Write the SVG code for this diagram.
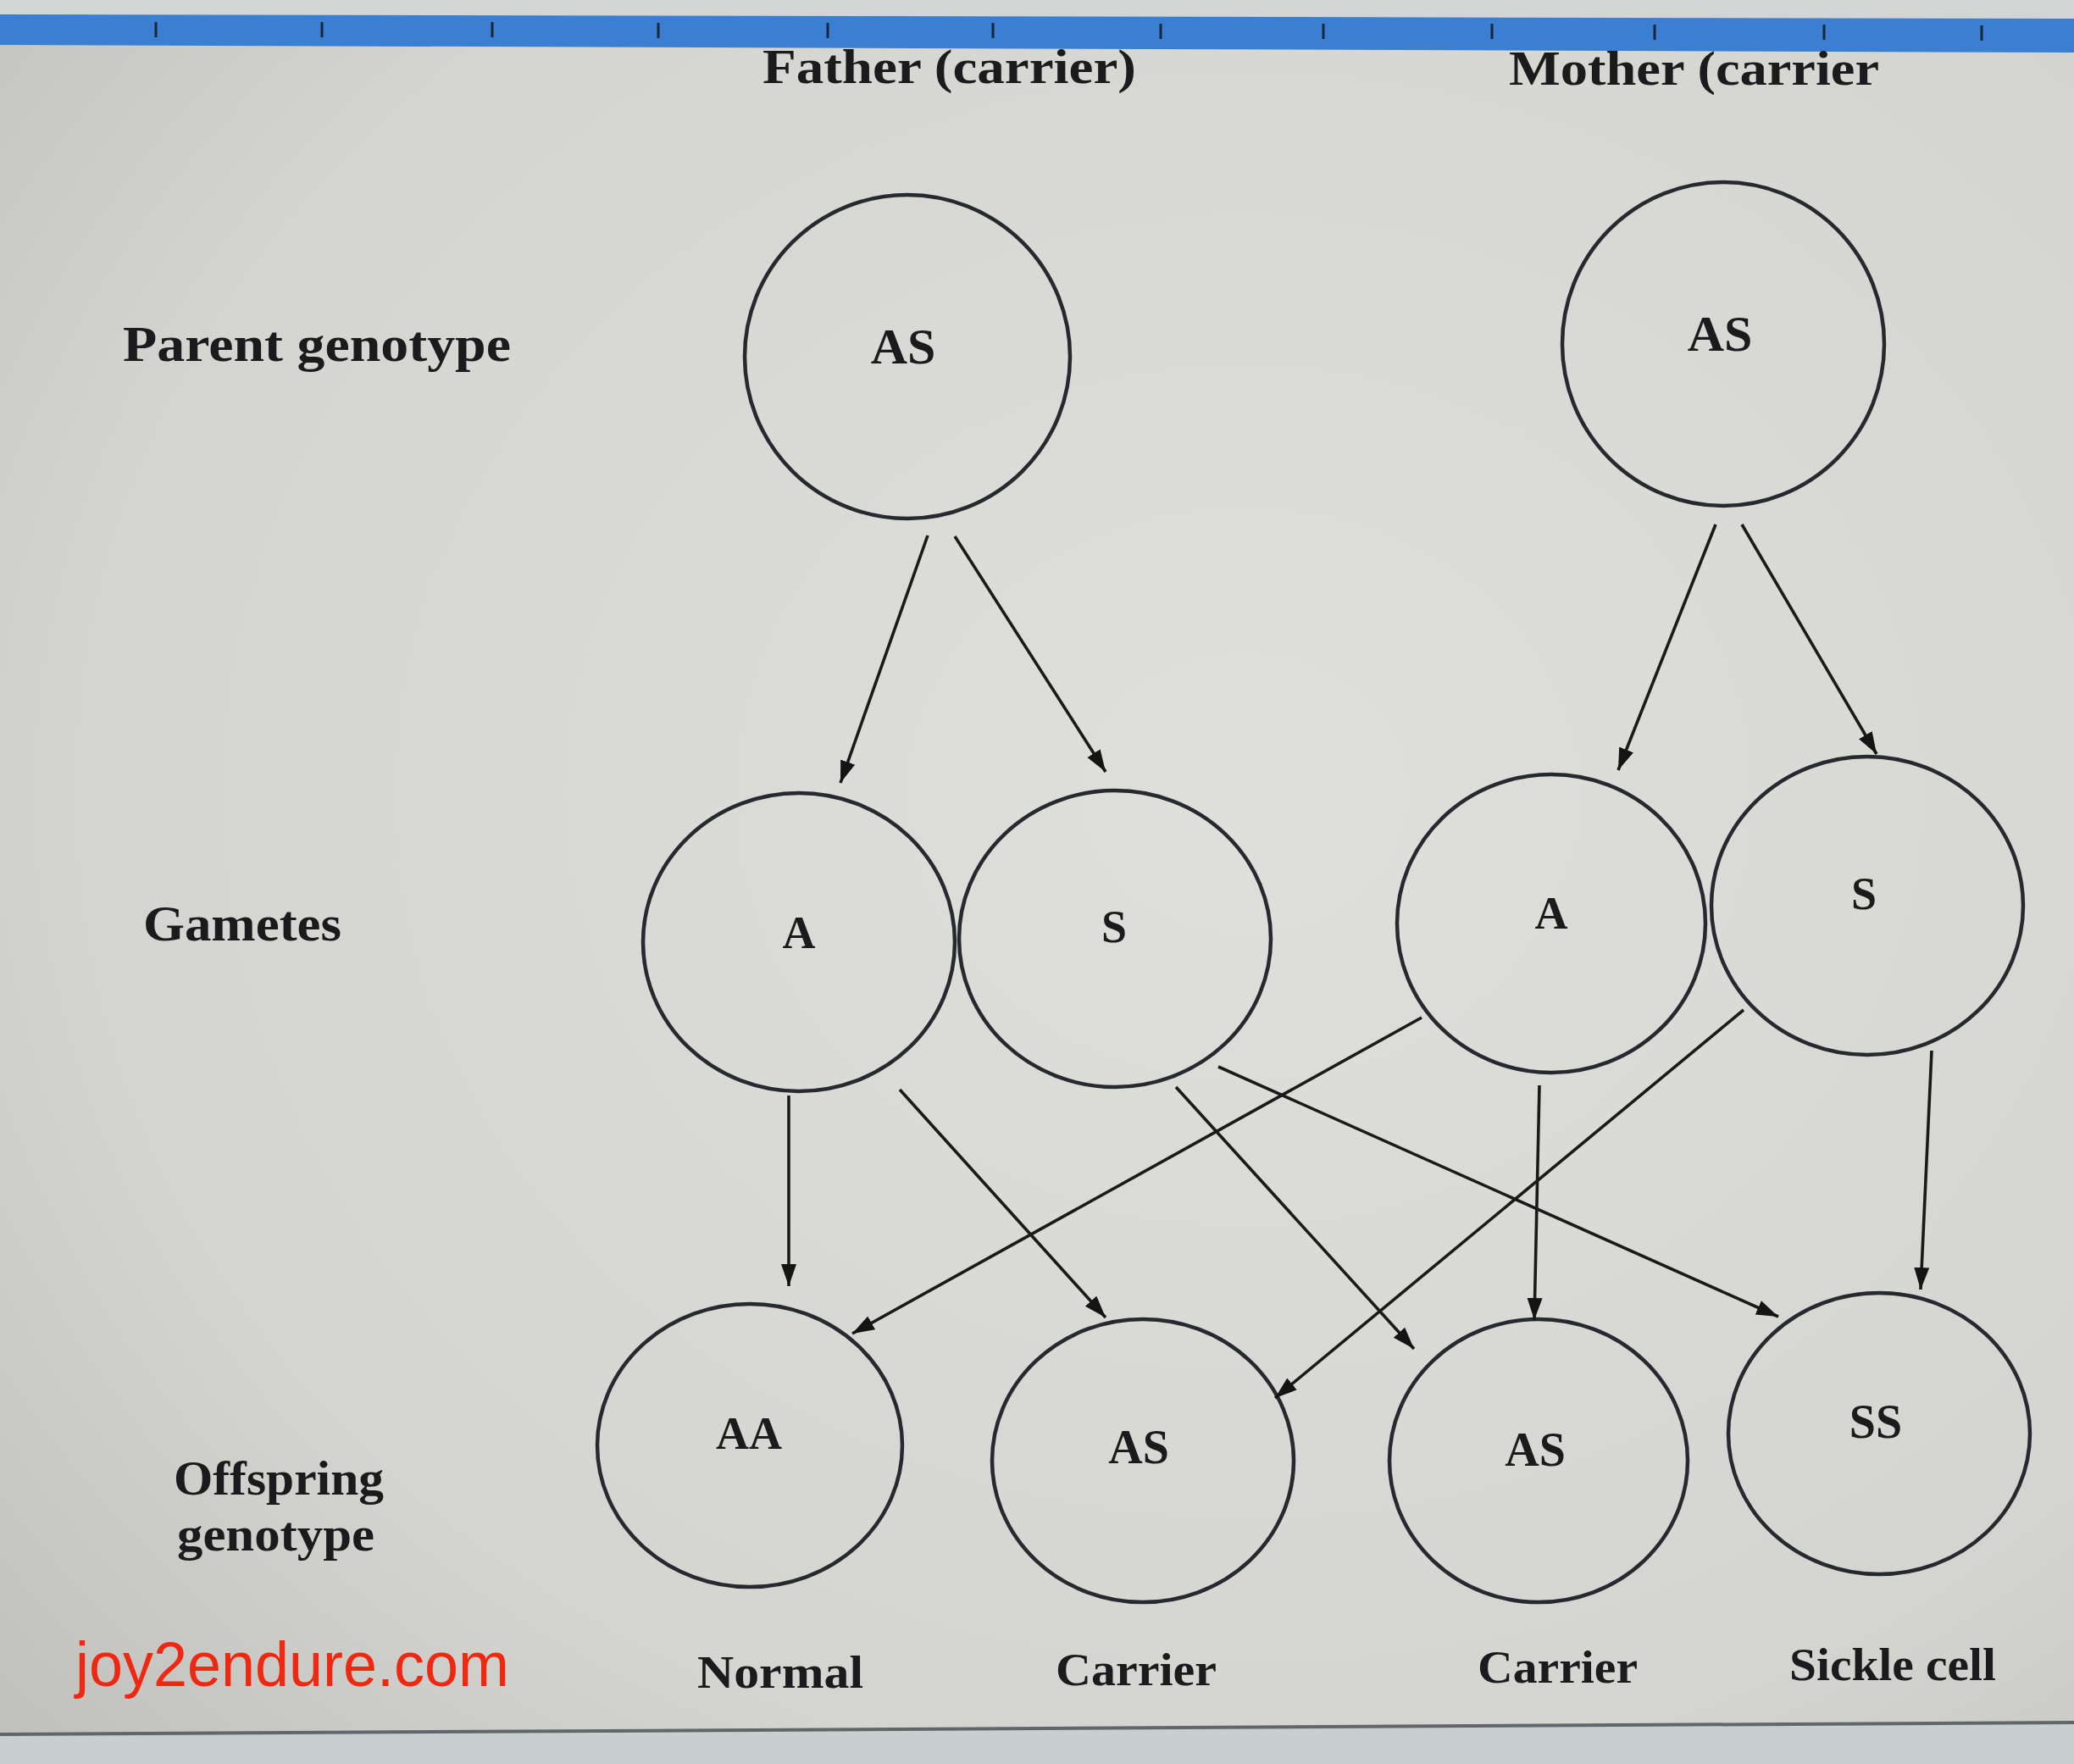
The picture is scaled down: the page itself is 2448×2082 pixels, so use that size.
<svg xmlns="http://www.w3.org/2000/svg" width="2448" height="2082" viewBox="0 0 2448 2082">
<defs>
<radialGradient id="bg" cx="0.6" cy="0.45" r="0.8">
<stop offset="0" stop-color="#dfe0dc"/>
<stop offset="0.7" stop-color="#d4d5d1"/>
<stop offset="1" stop-color="#c0c1bd"/>
</radialGradient>
<marker id="ah" markerUnits="userSpaceOnUse" markerWidth="28" markerHeight="20" refX="26" refY="9" orient="auto">
<path d="M0,0 L26,9 L0,18 z" fill="#141414"/>
</marker>
<style>
.node{fill:none;stroke:#26292d;stroke-width:4.5}
.conn line{stroke:#1a1a1a;stroke-width:3.6;marker-end:url(#ah)}
.lbl{font-family:"Liberation Serif","DejaVu Serif",serif;font-weight:bold;fill:#1b1b1d}
.ctr{text-anchor:middle}
.wm{font-family:"Liberation Sans",Arial,sans-serif;fill:#ef2812}
</style>
</defs>
<rect x="0" y="0" width="2448" height="2082" fill="url(#bg)"/>
<rect x="0" y="0" width="2448" height="22" fill="#d3d5d4"/>
<polygon points="0,17 2448,22 2448,62 0,53" fill="#3b7fd2"/>
<g stroke="#1b2738" stroke-width="3">
<line x1="184" y1="26" x2="184" y2="44"/><line x1="380" y1="26" x2="380" y2="44"/><line x1="581" y1="26" x2="581" y2="44"/><line x1="777" y1="27" x2="777" y2="45"/><line x1="977" y1="27" x2="977" y2="45"/><line x1="1172" y1="27" x2="1172" y2="45"/><line x1="1370" y1="28" x2="1370" y2="46"/><line x1="1562" y1="28" x2="1562" y2="46"/><line x1="1761" y1="28" x2="1761" y2="46"/><line x1="1953" y1="29" x2="1953" y2="47"/><line x1="2153" y1="29" x2="2153" y2="47"/><line x1="2339" y1="30" x2="2339" y2="48"/>
</g>
<polygon points="0,2047 2448,2033 2448,2082 0,2082" fill="#c8cfcf"/>
<line x1="0" y1="2047" x2="2448" y2="2033" stroke="#5f676b" stroke-width="4"/>

<text class="lbl" x="900" y="98" font-size="58" textLength="441" lengthAdjust="spacingAndGlyphs">Father (carrier)</text>
<text class="lbl" x="1781" y="100" font-size="58" textLength="437" lengthAdjust="spacingAndGlyphs">Mother (carrier</text>
<text class="lbl" x="145" y="426" font-size="60" textLength="458" lengthAdjust="spacingAndGlyphs">Parent genotype</text>
<text class="lbl" x="169" y="1110" font-size="60" textLength="234" lengthAdjust="spacingAndGlyphs">Gametes</text>
<text class="lbl" x="205" y="1764" font-size="56" textLength="248" lengthAdjust="spacingAndGlyphs">Offspring</text>
<text class="lbl" x="209" y="1830" font-size="56" textLength="233" lengthAdjust="spacingAndGlyphs">genotype</text>

<g id="father"><ellipse class="node" cx="1071" cy="421" rx="192" ry="191"/><text class="lbl ctr" x="1066" y="429" font-size="60">AS</text></g>
<g id="mother"><ellipse class="node" cx="2034" cy="406" rx="190" ry="191"/><text class="lbl ctr" x="2030" y="414" font-size="60">AS</text></g>
<g id="gf_a"><ellipse class="node" cx="943" cy="1112" rx="184" ry="176"/><text class="lbl ctr" x="943" y="1119" font-size="54">A</text></g>
<g id="gf_s"><ellipse class="node" cx="1316" cy="1108" rx="184" ry="175"/><text class="lbl ctr" x="1315" y="1112" font-size="54">S</text></g>
<g id="gm_a"><ellipse class="node" cx="1831" cy="1090" rx="182" ry="176"/><text class="lbl ctr" x="1831" y="1096" font-size="54">A</text></g>
<g id="gm_s"><ellipse class="node" cx="2204" cy="1069" rx="184" ry="176"/><text class="lbl ctr" x="2200" y="1073" font-size="54">S</text></g>
<g id="o_aa"><ellipse class="node" cx="885" cy="1706" rx="180" ry="167"/><text class="lbl ctr" x="884" y="1710" font-size="54">AA</text></g>
<g id="o_as1"><ellipse class="node" cx="1349" cy="1724" rx="178" ry="167"/><text class="lbl ctr" x="1344" y="1727" font-size="56">AS</text></g>
<g id="o_as2"><ellipse class="node" cx="1816" cy="1724" rx="176" ry="167"/><text class="lbl ctr" x="1812" y="1730" font-size="56">AS</text></g>
<g id="o_ss"><ellipse class="node" cx="2218" cy="1692" rx="178" ry="166"/><text class="lbl ctr" x="2214" y="1697" font-size="56">SS</text></g>

<g class="conn">
<line x1="1095" y1="632" x2="992" y2="924"/>
<line x1="1127" y1="633" x2="1305" y2="911"/>
<line x1="2025" y1="619" x2="1910" y2="909"/>
<line x1="2056" y1="619" x2="2215" y2="890"/>
<line x1="931" y1="1293" x2="931" y2="1518"/>
<line x1="1062" y1="1286" x2="1305" y2="1555"/>
<line x1="1388" y1="1283" x2="1669" y2="1592"/>
<line x1="1438" y1="1259" x2="2099" y2="1554"/>
<line x1="1678" y1="1201" x2="1006" y2="1574"/>
<line x1="1817" y1="1281" x2="1811" y2="1558"/>
<line x1="2058" y1="1192" x2="1505" y2="1650"/>
<line x1="2280" y1="1240" x2="2267" y2="1522"/>
</g>

<g id="outcomes">
<text class="lbl" x="823" y="1992" font-size="54" textLength="196" lengthAdjust="spacingAndGlyphs">Normal</text>
<text class="lbl" x="1246" y="1989" font-size="54" textLength="190" lengthAdjust="spacingAndGlyphs">Carrier</text>
<text class="lbl" x="1744" y="1986" font-size="54" textLength="189" lengthAdjust="spacingAndGlyphs">Carrier</text>
<text class="lbl" x="2112" y="1983" font-size="54" textLength="244" lengthAdjust="spacingAndGlyphs">Sickle cell</text>
</g>
<text class="wm" x="89" y="1990" font-size="74" textLength="512" lengthAdjust="spacingAndGlyphs">joy2endure.com</text>
</svg>
